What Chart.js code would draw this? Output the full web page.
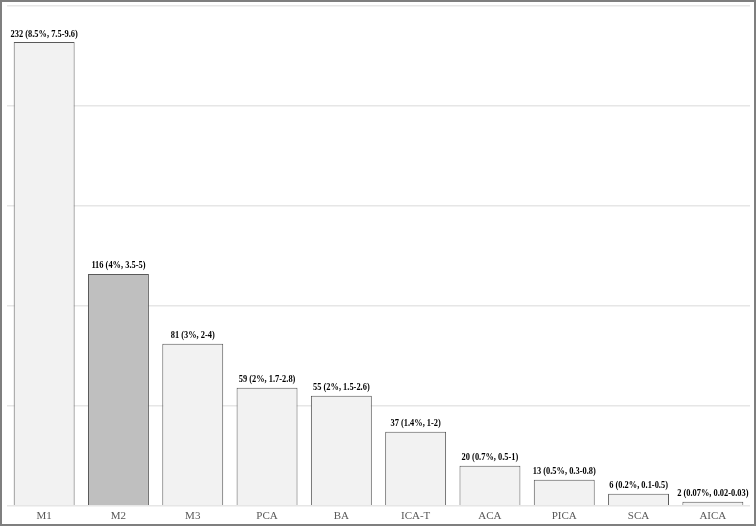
<!DOCTYPE html>
<html>
<head>
<meta charset="utf-8">
<script src="https://cdn.jsdelivr.net/npm/chart.js@4"></script>
<style>
  html, body { margin: 0; padding: 0; background: #fff; }
  #wrap { position: relative; width: 756px; height: 526px; }
  canvas { display: block; }
  #frame { position: absolute; left: 0; top: 0; width: 756px; height: 526px; box-sizing: border-box;
           border: 2px solid #7f7f7f; pointer-events: none; }
</style>
</head>
<body>
<div id="wrap">
  <canvas id="barChart" width="756" height="526"></canvas>
  <div id="frame"></div>
</div>
<script>
// vessel locations, counts and the (percent, CI) text shown above each bar
const categories = ['M1', 'M2', 'M3', 'PCA', 'BA', 'ICA-T', 'ACA', 'PICA', 'SCA', 'AICA'];
const counts = [232, 116, 81, 59, 55, 37, 20, 13, 6, 2];
const barLabels = [
  '232 (8.5%, 7.5-9.6)',
  '116 (4%, 3.5-5)',
  '81 (3%, 2-4)',
  '59 (2%, 1.7-2.8)',
  '55 (2%, 1.5-2.6)',
  '37 (1.4%, 1-2)',
  '20 (0.7%, 0.5-1)',
  '13 (0.5%, 0.3-0.8)',
  '6 (0.2%, 0.1-0.5)',
  '2 (0.07%, 0.02-0.03)'
];
const highlighted = 'M2';

const ctx = document.getElementById('barChart').getContext('2d');

// draws the count label on top of every bar (a bit condensed like the original)
const topLabels = {
  id: 'topLabels',
  afterDatasetsDraw(chart) {
    const c = chart.ctx;
    const meta = chart.getDatasetMeta(0);
    meta.data.forEach((bar, i) => {
      c.save();
      c.font = 'bold 10px "Liberation Serif", "Times New Roman", serif';
      c.fillStyle = '#000';
      c.textAlign = 'center';
      c.textBaseline = 'bottom';
      c.translate(bar.x, bar.y - 3);
      c.scale(0.84, 1);
      c.fillText(barLabels[i], 0, 0);
      c.restore();
    });
  }
};

let barChart = new Chart(ctx, {
  type: 'bar',
  data: {
    labels: categories,
    datasets: [{
      data: counts,
      backgroundColor: categories.map(c => c === highlighted ? '#bfbfbf' : '#f2f2f2'),
      borderColor: '#595959',
      borderWidth: 1,
      categoryPercentage: 0.82,
      barPercentage: 1
    }]
  },
  options: {
    responsive: false,
    animation: false,
    layout: { padding: { left: 7, right: 6, top: 6, bottom: -1 } },
    plugins: {
      legend: { display: false },
      tooltip: { enabled: false }
    },
    scales: {
      x: {
        grid: { display: false, drawTicks: false, tickLength: 0 },
        border: { display: false },
        ticks: {
          color: '#595959',
          padding: 4,
          font: { family: '"Liberation Serif", "Times New Roman", serif', size: 11 }
        }
      },
      y: {
        min: 0,
        max: 250,
        ticks: { display: false, stepSize: 50 },
        border: { display: false },
        grid: { color: '#e6e6e6', lineWidth: 1.5, drawTicks: false }
      }
    }
  },
  plugins: [topLabels]
});
</script>
</body>
</html>
